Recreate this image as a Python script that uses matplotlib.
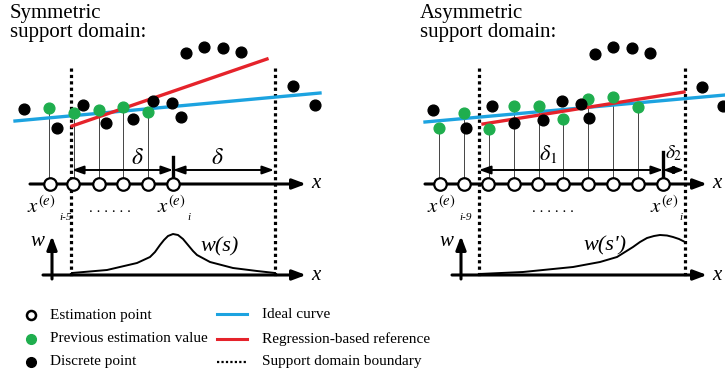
import matplotlib
matplotlib.use('Agg')

from matplotlib import pyplot as plt

plt.rcParams['font.family'] = ['Liberation Serif', 'DejaVu Serif']
plt.rcParams['mathtext.fontset'] = 'stix'

# Painel esquerdo (domínio simétrico) - posições em pixels da figura
esq_pretos_x = [24, 57, 83, 106, 133, 153, 172, 181, 186, 204, 223, 241, 293, 315]
esq_pretos_y = [109, 128, 105, 123, 119, 101, 103, 117, 53, 47, 48, 52, 86, 105]
esq_verdes_x = [49, 74, 99, 123, 148]
esq_verdes_y = [108, 113, 110, 107, 112]
esq_estim_x = [50, 73, 99, 123, 148, 173]
esq_ideal_x = [15, 320]
esq_ideal_y = [121, 93]
esq_regr_x = [72, 267]
esq_regr_y = [126, 59]
esq_limites = [71, 275]
esq_w_x = [72, 107, 137, 150, 155, 160, 164, 168, 173, 178, 183, 188, 193, 197, 210, 233, 257, 275]
esq_w_y = [273, 270, 263, 257, 252, 245, 240, 236, 234, 235, 239, 245, 251, 255, 262, 268, 271, 273]

# Painel direito (domínio assimétrico)
dir_pretos_x = [433, 466, 492, 514, 543, 562, 581, 589, 595, 613, 632, 650, 702, 723]
dir_pretos_y = [110, 128, 106, 123, 120, 101, 104, 118, 54, 47, 48, 53, 87, 106]
dir_verdes_x = [439, 464, 489, 514, 539, 563, 588, 613, 638]
dir_verdes_y = [128, 113, 129, 106, 106, 119, 99, 97, 107]
dir_estim_x = [440, 464, 488, 514, 538, 563, 588, 613, 638, 663]
dir_ideal_x = [425, 725]
dir_ideal_y = [122, 95]
dir_regr_x = [483, 684]
dir_regr_y = [124, 92]
dir_limites = [479, 685]
dir_w_x = [479, 523, 573, 600, 617, 625, 633, 640, 647, 654, 660, 667, 673, 679, 685]
dir_w_y = [274, 272, 267, 262, 257, 252, 247, 242, 238, 236, 235, 235.5, 237, 239, 242]

AZUL = '#1CA3E0'
VERMELHO = '#E5232B'
VERDE = '#1FAE4E'

fig = plt.figure(figsize=(7.25, 3.84), dpi=100)
ax = fig.add_axes([0, 0, 1, 1])
ax.set_xlim(0, 725)
ax.set_ylim(384, 0)
ax.axis('off')


def seta(x0, y0, x1, y1, estilo='-|>', lw=2.2, cab=0.8, larg=0.3):
    ax.annotate('', xy=(x1, y1), xytext=(x0, y0),
                arrowprops=dict(arrowstyle=f'{estilo},head_length={cab},head_width={larg}',
                                lw=lw, color='black', shrinkA=0, shrinkB=0))


def painel(pretos_x, pretos_y, verdes_x, verdes_y, estim_x, ideal_x, ideal_y,
           regr_x, regr_y, limites, w_x, w_y, x_ini, x_fim, wx):
    # hastes cinzas
    for xv, yv in zip(verdes_x, verdes_y):
        ax.plot([xv, xv], [yv, 184], color='#444444', lw=0.7, zorder=1)
    # limites do domínio
    for xl in limites:
        ax.plot([xl, xl], [68, 276], color='black', lw=2.3, ls=(0, (1, 1)), zorder=2)
    ax.plot(ideal_x, ideal_y, color=AZUL, lw=2.4, zorder=3)
    ax.plot(regr_x, regr_y, color=VERMELHO, lw=2.4, zorder=3)
    ax.scatter(verdes_x, verdes_y, s=60, color=VERDE, zorder=4)
    ax.scatter(pretos_x, pretos_y, s=60, color='black', zorder=4)
    # eixo x das estimativas
    seta(x_ini, 184, x_fim, 184)
    ax.plot(estim_x, [184] * len(estim_x), 'o', ms=9, mfc='white', mec='black', mew=1.6, zorder=5)
    ax.text(x_fim + 5, 184, 'x', style='italic', fontsize=15, va='center', ha='left')
    # função peso
    seta(wx, 279, wx, 236)
    seta(wx - 9, 275, x_fim, 275)
    ax.text(x_fim + 5, 275, 'x', style='italic', fontsize=15, va='center', ha='left')
    ax.text(wx - 8, 242, 'w', style='italic', fontsize=15, va='center', ha='right')
    ax.plot(w_x, w_y, color='black', lw=1.4, zorder=3)


painel(esq_pretos_x, esq_pretos_y, esq_verdes_x, esq_verdes_y, esq_estim_x,
       esq_ideal_x, esq_ideal_y, esq_regr_x, esq_regr_y, esq_limites,
       esq_w_x, esq_w_y, 30, 306, 52)
painel(dir_pretos_x, dir_pretos_y, dir_verdes_x, dir_verdes_y, dir_estim_x,
       dir_ideal_x, dir_ideal_y, dir_regr_x, dir_regr_y, dir_limites,
       dir_w_x, dir_w_y, 425, 707, 461)

# Títulos
ax.text(10, 4, 'Symmetric\nsupport domain:', fontsize=15, va='top', ha='left', linespacing=1.0)
ax.text(420, 4, 'Asymmetric\nsupport domain:', fontsize=15, va='top', ha='left', linespacing=1.0)

# Setas delta e marca de x_i
seta(72, 170, 173, 170, '<|-|>', lw=1.4, cab=0.7, larg=0.25)
seta(173, 170, 274, 170, '<|-|>', lw=1.4, cab=0.7, larg=0.25)
ax.plot([173, 173], [157, 177], color='black', lw=2.4)
ax.text(137, 158, r'$\delta$', fontsize=17, ha='center', va='center')
ax.text(217, 158, r'$\delta$', fontsize=17, ha='center', va='center')

seta(479, 170, 663, 170, '<|-|>', lw=1.4, cab=0.7, larg=0.25)
seta(663, 170, 684, 170, '<|-|>', lw=1.4, cab=0.6, larg=0.22)
ax.plot([663, 663], [152, 180], color='black', lw=2.4)
ax.text(548, 154, r'$\delta_1$', fontsize=16, ha='center', va='center')
ax.text(674, 153, r'$\delta_2$', fontsize=14, ha='center', va='center')

# Rótulos das estimativas
ax.text(27, 213, r'$x^{(e)}$', fontsize=15, ha='left', va='baseline')
ax.text(59, 217, 'i-5', style='italic', fontsize=8, ha='left', va='center')
ax.text(157, 213, r'$x^{(e)}$', fontsize=15, ha='left', va='baseline')
ax.text(187, 217, 'i', style='italic', fontsize=8, ha='left', va='center')
ax.text(110, 208, '. . . . . .', fontsize=11, ha='center', va='center')

ax.text(427, 213, r'$x^{(e)}$', fontsize=15, ha='left', va='baseline')
ax.text(459, 217, 'i-9', style='italic', fontsize=8, ha='left', va='center')
ax.text(650, 213, r'$x^{(e)}$', fontsize=15, ha='left', va='baseline')
ax.text(679, 217, 'i', style='italic', fontsize=8, ha='left', va='center')
ax.text(553, 209, '. . . . . .', fontsize=11, ha='center', va='center')

ax.text(220, 247, 'w(s)', style='italic', fontsize=16, ha='center', va='center')
ax.text(605, 246, "w(s')", style='italic', fontsize=16, ha='center', va='center')

# Legenda
ax.plot([31], [315], 'o', ms=6.5, mfc='white', mec='black', mew=1.8)
ax.plot([31], [339], 'o', ms=7, color=VERDE)
ax.plot([31], [362], 'o', ms=7, color='black')
ax.text(50, 315, 'Estimation point', fontsize=11, va='center')
ax.text(50, 339, 'Previous estimation value', fontsize=11, va='center')
ax.text(50, 362, 'Discrete point', fontsize=11, va='center')

ax.plot([217, 247], [314, 314], color=AZUL, lw=2.2)
ax.plot([217, 247], [339, 339], color=VERMELHO, lw=2.2)
ax.plot([217, 247], [362, 362], color='black', lw=1.6, ls=(0, (1, 1)))
ax.text(262, 315, 'Ideal curve', fontsize=11, va='center')
ax.text(262, 339, 'Regression-based reference', fontsize=11, va='center')
ax.text(262, 362, 'Support domain boundary', fontsize=11, va='center')

fig.savefig('out.png', dpi=100)
